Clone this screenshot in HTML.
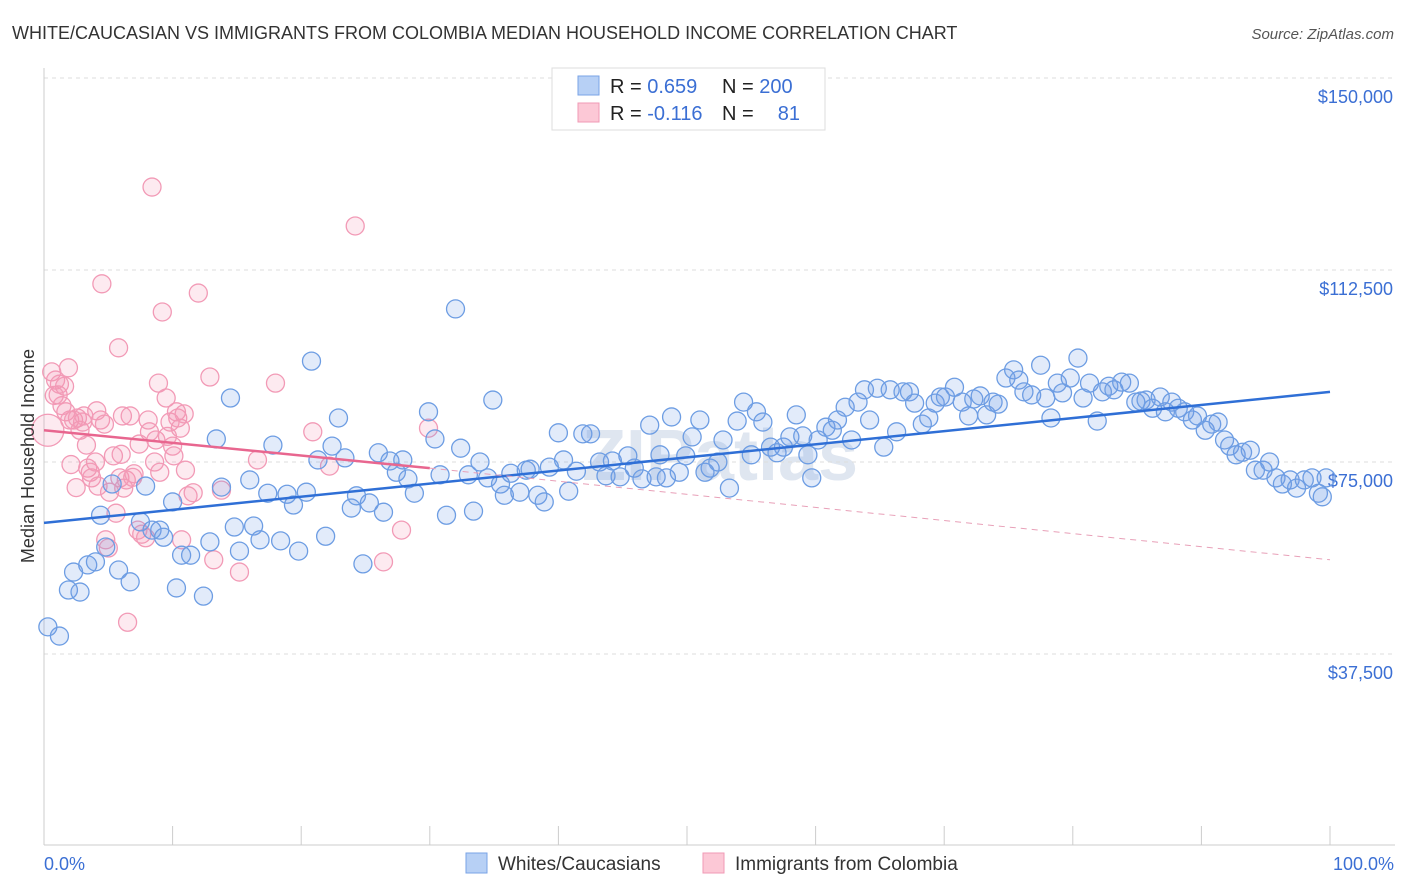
<!DOCTYPE html>
<html><head><meta charset="utf-8"><style>
body{margin:0;background:#fff;font-family:"Liberation Sans",sans-serif;}
svg{display:block}
</style></head><body>
<svg id="chart" width="1406" height="892">
<text x="12" y="39" font-size="18" fill="#333">WHITE/CAUCASIAN VS IMMIGRANTS FROM COLOMBIA MEDIAN HOUSEHOLD INCOME CORRELATION CHART</text>
<text x="1394" y="39" font-size="15" fill="#555" font-style="italic" text-anchor="end">Source: ZipAtlas.com</text>
<text x="720" y="480" font-size="72" font-weight="bold" fill="#dfe6f0" text-anchor="middle">ZIPatlas</text>
<g id="grid"></g><g id="axes"></g>
<g id="pinkpts"></g><g id="bluepts"></g><g id="trends"></g>
<text transform="translate(34,456) rotate(-90)" font-size="18" fill="#333" text-anchor="middle">Median Household Income</text>
<text x="44" y="870" font-size="18" fill="#3b6fd4">0.0%</text>
<text x="1394" y="870" font-size="18" fill="#3b6fd4" text-anchor="end">100.0%</text>
<g>
<rect x="552" y="68" width="273" height="62" fill="#fff" stroke="#ddd"/>
<rect x="578" y="76" width="21" height="19" fill="#b7d0f5" stroke="#7aa3e6"/>
<rect x="578" y="103" width="21" height="19" fill="#fcc8d6" stroke="#f09ab5"/>
<text x="610" y="93" font-size="20" fill="#222">R = <tspan fill="#3b6fd4">0.659</tspan></text>
<text x="722" y="93" font-size="20" fill="#222">N = <tspan fill="#3b6fd4">200</tspan></text>
<text x="610" y="120" font-size="20" fill="#222">R = <tspan fill="#3b6fd4">-0.116</tspan></text>
<text x="722" y="120" font-size="20" fill="#222">N = </text>
<text x="800" y="120" font-size="20" fill="#3b6fd4" text-anchor="end">81</text>
</g>
<g>
<rect x="466" y="853" width="21" height="20" fill="#b7d0f5" stroke="#7aa3e6"/>
<text x="498" y="870" font-size="19" fill="#333">Whites/Caucasians</text>
<rect x="703" y="853" width="21" height="20" fill="#fcc8d6" stroke="#f09ab5"/>
<text x="735" y="870" font-size="19" fill="#333">Immigrants from Colombia</text>
</g>
</svg>
<script>
const yTicks=[37.5,75,112.5,150];
const yTickLabels=["$37,500","$75,000","$112,500","$150,000"];
const xTicks=[0,10,20,30,40,50,60,70,80,90,100];
const blueX=[0.3,1.2,1.9,2.3,2.8,3.4,4.0,4.4,4.8,5.3,5.8,6.7,7.5,7.9,8.4,9.0,9.3,10.0,10.3,10.7,11.4,12.4,12.9,13.4,13.8,14.5,14.8,15.2,16.0,16.3,16.8,17.4,17.8,18.4,18.9,19.4,19.8,20.4,20.8,21.3,21.9,22.4,22.9,23.4,23.9,24.3,24.8,25.3,26.0,26.4,26.9,27.4,27.9,28.3,28.8,29.9,30.4,30.8,31.3,32.0,32.4,33.0,33.4,33.9,34.5,34.9,35.5,35.8,36.3,37.0,37.5,37.8,38.4,38.9,39.3,40.0,40.4,40.8,41.4,41.9,42.5,43.2,43.7,44.2,44.8,45.4,45.9,46.5,47.1,47.6,47.9,48.4,48.8,49.4,49.9,50.4,51.0,51.4,51.8,52.4,52.8,53.3,53.9,54.4,55.0,55.4,55.9,56.5,57.0,57.5,58.0,58.5,59.0,59.4,59.7,60.2,60.8,61.3,61.7,62.3,62.8,63.3,63.8,64.2,64.8,65.3,65.8,66.3,66.8,67.3,67.7,68.3,68.8,69.3,69.7,70.1,70.8,71.4,71.9,72.3,72.8,73.3,73.8,74.2,74.8,75.4,75.8,76.2,76.8,77.5,77.9,78.3,78.8,79.2,79.8,80.4,80.8,81.3,81.9,82.3,82.8,83.2,83.8,84.4,84.9,85.3,85.7,86.2,86.8,87.2,87.7,88.2,88.7,89.3,89.7,90.3,90.8,91.3,91.8,92.2,92.7,93.2,93.8,94.2,94.8,95.3,95.8,96.3,96.9,97.4,98.0,98.6,99.1,99.4,99.7];
const blueY=[42.8,41.0,50.0,53.5,49.6,54.9,55.5,64.6,58.4,70.7,53.9,51.6,63.3,70.3,61.7,61.7,60.3,67.2,50.4,56.8,56.8,48.8,59.4,79.5,70.1,87.5,62.3,57.6,71.5,62.5,59.8,68.9,78.3,59.6,68.7,66.6,57.6,69.1,94.7,75.4,60.5,78.1,83.6,75.8,66.0,68.4,55.1,67.0,76.8,65.2,75.2,73.0,75.4,71.7,68.9,84.8,79.5,72.5,64.6,104.9,77.7,72.5,65.4,75.0,71.9,87.1,70.7,68.5,72.8,69.1,73.4,73.6,68.5,67.2,74.0,80.7,75.4,69.3,73.2,80.5,80.5,75.0,72.3,75.2,72.1,76.2,73.8,71.7,82.2,72.1,76.4,71.9,83.8,73.0,76.2,79.9,83.2,73.0,73.8,75.0,79.3,69.9,83.0,86.7,76.4,84.8,82.8,77.9,76.8,77.9,79.9,84.2,80.1,76.4,71.9,79.3,81.8,81.2,83.2,85.7,79.3,86.7,89.1,83.2,89.4,77.9,89.1,80.9,88.7,88.7,86.5,82.4,83.6,86.5,87.7,87.7,89.6,86.7,84.0,87.3,87.9,84.2,86.7,86.3,91.4,93.0,91.0,88.7,88.1,93.9,87.5,83.6,90.4,88.5,91.4,95.3,87.5,90.4,83.0,88.7,89.8,89.1,90.6,90.4,86.7,86.9,87.1,85.5,87.7,84.8,86.7,85.5,84.8,83.2,84.0,81.2,82.4,82.8,79.3,78.1,76.4,76.9,77.3,73.4,73.4,75.0,71.9,70.7,71.5,69.9,71.5,71.9,68.9,68.2,71.9];
const pinkX=[0.3,0.6,0.9,1.1,1.2,1.6,1.7,1.9,2.0,2.3,2.6,2.8,3.0,3.3,3.4,3.6,3.7,4.0,4.2,4.4,4.7,4.5,4.8,5.0,5.1,5.4,5.8,5.9,6.1,6.2,6.4,6.5,6.7,7.0,7.3,7.6,7.9,8.1,8.2,8.4,8.6,8.7,8.9,9.0,9.2,9.5,9.8,10.0,10.1,10.3,10.4,10.6,10.7,10.9,11.0,11.2,12.0,12.9,13.2,13.8,15.2,16.6,18.0,20.9,22.2,24.2,26.4,27.8,29.9,1.4,2.1,3.1,5.6,6.9,0.8,2.5,4.1,6.0,7.4,9.6,11.6];
const pinkY=[81.2,92.6,91.0,88.1,90.2,89.8,84.8,93.4,83.2,83.2,83.6,81.2,82.8,78.3,73.8,73.0,71.9,75.0,70.3,83.2,82.4,109.8,59.8,58.2,69.1,76.2,97.3,71.9,84.0,69.9,71.5,43.7,84.0,72.7,61.7,60.9,60.2,83.2,80.9,128.7,75.0,79.3,90.4,73.0,104.3,87.5,82.8,78.1,76.2,84.8,83.6,81.6,59.8,84.4,73.4,68.4,108.0,91.6,55.9,69.5,53.5,75.4,90.4,80.9,74.2,121.1,55.5,61.7,81.6,86.0,74.5,84.0,65.0,72.0,88.0,70.0,85.0,76.5,78.5,80.0,69.0];
const blueTrendX=[0,100], blueTrendY=[63.1,88.7];
const pinkTrendX=[0,30,100], pinkTrendY=[81.2,73.8,55.9];
const NS='http://www.w3.org/2000/svg';
const X0=44,X1=1330,YB=846,PXK=192/37.5;
function sx(v){return X0+(X1-X0)*v/100;}
function sy(v){return YB-v*PXK;}
function mk(tag,attrs,parent){const e=document.createElementNS(NS,tag);for(const k in attrs)e.setAttribute(k,attrs[k]);parent.appendChild(e);return e;}
const grid=document.getElementById('grid'),axes=document.getElementById('axes');
yTicks.forEach((t,i)=>{
 const l=mk('line',{x1:44,x2:1395,y1:sy(t),y2:sy(t),stroke:'#ddd','stroke-dasharray':'4,4'},grid);
 
 
 const tx=mk('text',{x:1393,y:sy(t)+25,'font-size':18,fill:'#3b6fd4','text-anchor':'end'},axes);
 tx.textContent=yTickLabels[i];
 
 
});
const xa=mk('line',{x1:44,x2:1395,y1:845,y2:845,stroke:'#ccc'},axes);


const ya=mk('line',{x1:44,x2:44,y1:68,y2:845,stroke:'#ccc'},axes);


xTicks.forEach(t=>{
 const l=mk('line',{x1:sx(t),x2:sx(t),y1:826,y2:845,stroke:'#ccc'},axes);
 
 
});
const bp=document.getElementById('bluepts'),pp=document.getElementById('pinkpts');
pinkX.forEach((v,i)=>{
 const c=mk('circle',{cx:sx(v),cy:sy(pinkY[i]),r:i===0?16:9,fill:'rgba(244,150,180,0.2)',stroke:'#f29ab6','stroke-width':1.3},pp);
 
 
});
blueX.forEach((v,i)=>{
 const c=mk('circle',{cx:sx(v),cy:sy(blueY[i]),r:9,fill:'rgba(110,155,230,0.2)',stroke:'#6d9de3','stroke-width':1.3},bp);
 
 
});
const tr=document.getElementById('trends');
const bl=mk('line',{x1:sx(blueTrendX[0]),y1:sy(blueTrendY[0]),x2:sx(blueTrendX[1]),y2:sy(blueTrendY[1]),stroke:'#2f6fd6','stroke-width':2.5},tr);


const pl=mk('line',{x1:sx(pinkTrendX[0]),y1:sy(pinkTrendY[0]),x2:sx(pinkTrendX[1]),y2:sy(pinkTrendY[1]),stroke:'#e8668f','stroke-width':2.5},tr);


const pd=mk('line',{x1:sx(pinkTrendX[1]),y1:sy(pinkTrendY[1]),x2:sx(pinkTrendX[2]),y2:sy(pinkTrendY[2]),stroke:'#e8a0b8','stroke-width':1,'stroke-dasharray':'6,5'},tr);


</script>
</body></html>
